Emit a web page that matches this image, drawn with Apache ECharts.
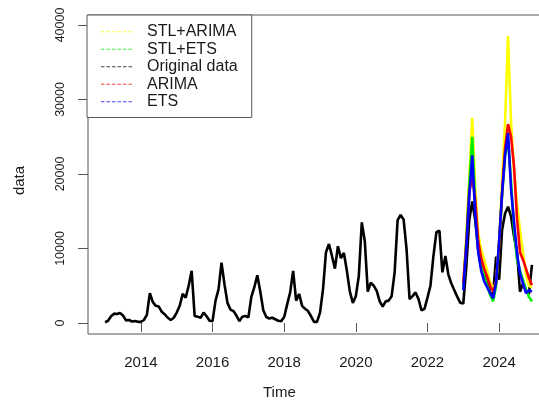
<!DOCTYPE html>
<html>
<head>
<meta charset="utf-8">
<title>Forecasts</title>
<script src="https://cdn.jsdelivr.net/npm/echarts@6/dist/echarts.min.js"></script>
<style>
    html, body { margin: 0; padding: 0; background: #fff; }
    #chart { width: 539px; height: 404px; }
</style>
</head>
<body>
<div id="chart"></div>
<script type="text/javascript">
// monthly series, Jan 2013 .. Dec 2024
var startYear = 2013;
var original = [
    100, 300, 900, 1250, 1200, 1350, 1000, 350, 400, 200, 250, 150,
    150, 400, 1100, 4000, 2800, 2300, 2200, 1500, 1150, 700, 400, 700,
    1400, 2300, 3900, 3400, 5000, 7000, 950, 850, 700, 1400, 900, 300,
    250, 3000, 4500, 8100, 5200, 2700, 1800, 1600, 1000, 250, 850, 950,
    750, 3500, 4800, 6400, 4200, 1700, 800, 600, 700, 500, 300, 250,
    800, 2500, 4100, 7000, 3000, 3900, 2300, 1900, 1600, 900, 150, 150,
    1400, 4500, 9500, 10600, 9000, 7300, 10300, 8700, 9400, 7000, 4200, 2700,
    3600, 6300, 13500, 11000, 4200, 5400, 5000, 4300, 2900, 2200, 2900, 3000,
    3600, 6800, 13800, 14500, 13900, 9900, 3200, 3600, 4100, 3200, 1700, 1900,
    3400, 5000, 9000, 12200, 12400, 6800, 9000, 6500, 5300, 4400, 3500, 2700,
    2600, 7500, 13800, 16300, 13800, 9800, 7500, 6600, 5700, 4000, 3900, 8900,
    5800, 12500, 14700, 15600, 14300, 11600, 9500, 4200, 5300, 4400, 3900, 7800
];

// forecasts, Jan 2023 .. Dec 2024
var fcStart = 2023;
var stlArima = [5000, 11500, 19500, 27500, 18000, 12000, 9800, 8500, 7000, 5500, 4600, 5500,
                11000, 19000, 27000, 38500, 27000, 20500, 16000, 12500, 9500, 6500, 5000, 4800];
var stlEts   = [4800, 11000, 18500, 25000, 16000, 10500, 7800, 6300, 5000, 3800, 2900, 5000,
                10500, 17000, 22500, 24500, 19000, 12500, 8500, 7000, 5800, 4500, 3500, 2900];
var arima    = [5300, 10500, 17500, 19800, 16500, 11000, 8700, 7300, 6200, 5000, 4200, 5500,
                10500, 17500, 23500, 26700, 25000, 21000, 14000, 9500, 8500, 7300, 6000, 5100];
var ets      = [4400, 10000, 17000, 22500, 14500, 9500, 7000, 5600, 4800, 4000, 3300, 5500,
                11000, 17500, 22500, 25500, 18000, 13500, 9300, 6700, 5300, 4000, 4400, 4200];

var xTicks = [2014, 2016, 2018, 2020, 2022, 2024];
var yTicks = [0, 10000, 20000, 30000, 40000];

function toPoints(vals, start) {
    return vals.map(function (v, i) { return [start + i / 12, v]; });
}

var font = 'Liberation Sans, Arial, sans-serif';
var dashIcon = 'path://M0,0h3.5v1.2h-3.5zM5.5,0h3.5v1.2h-3.5zM11,0h3.5v1.2h-3.5zM16.5,0h3.5v1.2h-3.5zM22,0h3.5v1.2h-3.5zM27.5,0h3.5v1.2h-3.5z';

function lineSeries(name, color, data) {
    return {
        name: name,
        type: 'line',
        data: data,
        showSymbol: false,
        symbol: 'none',
        itemStyle: { color: color },
        lineStyle: { color: color, width: 2.6 }
    };
}

var option = {
    animation: false,
    backgroundColor: '#fff',
    title: {
        text: 'Time',
        left: 263,
        top: 385,
        padding: 0,
        textStyle: { fontFamily: font, fontSize: 15, fontWeight: 'normal', color: '#1a1a1a' }
    },
    legend: {
        data: ['STL+ARIMA', 'STL+ETS', 'Original data', 'ARIMA', 'ETS'],
        orient: 'vertical',
        left: 87,
        top: 15,
        padding: [8, 14, 7, 14],
        itemGap: 0,
        itemWidth: 31,
        itemHeight: 1.2,
        icon: dashIcon,
        borderColor: '#555',
        borderWidth: 1,
        borderRadius: 0,
        backgroundColor: '#fff',
        itemStyle: { opacity: 0.75 },
        textStyle: { fontFamily: font, fontSize: 16, lineHeight: 17.5, color: '#1a1a1a', padding: [0, 0, 0, 10] }
    },
    grid: {
        left: 88,
        top: 15,
        width: 461,
        height: 319,
        show: true,
        borderColor: '#555',
        borderWidth: 1,
        outerBoundsMode: 'none'
    },
    xAxis: {
        type: 'value',
        min: 2012.523,
        max: 2025.393,
        axisLine: { show: false },
        splitLine: { show: false },
        axisTick: { show: true, length: 9, lineStyle: { color: '#555' }, customValues: xTicks },
        axisLabel: {
            customValues: xTicks,
            margin: 21,
            fontFamily: font,
            fontSize: 15,
            color: '#1a1a1a',
            formatter: function (v) { return String(v); }
        }
    },
    yAxis: {
        type: 'value',
        min: -1480,
        max: 41340,
        name: 'data',
        nameLocation: 'middle',
        nameRotate: 90,
        nameGap: 61,
        nameTextStyle: { fontFamily: font, fontSize: 15, color: '#1a1a1a', padding: [0, 12, 0, 0] },
        axisLine: { show: false },
        splitLine: { show: false },
        axisTick: { show: true, length: 10, lineStyle: { color: '#555' }, customValues: yTicks },
        axisLabel: {
            customValues: yTicks,
            rotate: 90,
            margin: 21,
            fontFamily: font,
            fontSize: 12.5,
            color: '#1a1a1a',
            formatter: function (v) { return String(v); }
        }
    },
    series: [
        lineSeries('Original data', '#000000', toPoints(original, startYear)),
        lineSeries('STL+ARIMA', '#ffff00', toPoints(stlArima, fcStart)),
        lineSeries('STL+ETS', '#00ee00', toPoints(stlEts, fcStart)),
        lineSeries('ARIMA', '#ff0000', toPoints(arima, fcStart)),
        lineSeries('ETS', '#0000ff', toPoints(ets, fcStart))
    ]
};

var myChart = echarts.init(document.getElementById('chart'));
myChart.setOption(option);
</script>
</body>
</html>
